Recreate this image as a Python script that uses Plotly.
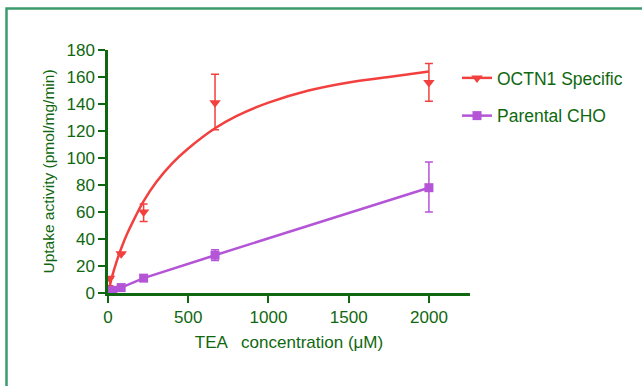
import plotly.graph_objects as go

# OCTN1 Specific data
octn1_x = [0, 10, 82, 222, 667, 2000]
octn1_y = [4, 11, 29, 60, 141, 156]
octn1_err_plus = [0, 0, 0, 6, 21, 14]
octn1_err_minus = [0, 0, 0, 7, 20, 14]

# OCTN1 fitted curve
fit_x = [0, 25, 50, 82, 120, 160, 222, 300, 400, 500, 667, 800, 1000, 1250, 1500, 1750, 2000]
fit_y = [0, 12, 22, 33, 44, 54, 68, 82, 96, 107, 122, 131, 141, 150, 156, 160, 164]

# Parental CHO data
cho_x = [0, 10, 30, 82, 222, 667, 2000]
cho_y = [0, 1, 2, 4, 11, 28, 78]
cho_err_plus = [0, 0, 0, 0, 0, 4, 19]
cho_err_minus = [0, 0, 0, 0, 0, 4, 18]

x_ticks = [0, 500, 1000, 1500, 2000]
y_ticks = [0, 20, 40, 60, 80, 100, 120, 140, 160, 180]

RED = "#f2403f"
PURPLE = "#b454d6"
GREEN = "#0f680f"
FONT = "Liberation Sans, Arial, sans-serif"

fig = go.Figure()

fig.add_trace(go.Scatter(
    x=fit_x, y=fit_y, mode="lines", line=dict(color=RED, width=2.5, shape="spline", smoothing=0.8),
    showlegend=False, hoverinfo="skip"))
fig.add_trace(go.Scatter(
    x=octn1_x, y=octn1_y, mode="markers",
    marker=dict(symbol="triangle-down", size=10, color=RED),
    error_y=dict(type="data", array=octn1_err_plus, arrayminus=octn1_err_minus,
                 color=RED, thickness=1.5, width=4),
    showlegend=False))
fig.add_trace(go.Scatter(
    x=[None], y=[None], mode="lines+markers", name="OCTN1 Specific",
    line=dict(color=RED, width=2.5),
    marker=dict(symbol="triangle-down", size=10, color=RED),
    legendgroup="a"))
fig.add_trace(go.Scatter(
    x=cho_x, y=cho_y, mode="lines+markers", name="Parental CHO",
    line=dict(color=PURPLE, width=2.5),
    marker=dict(symbol="square", size=9, color=PURPLE),
    error_y=dict(type="data", array=cho_err_plus, arrayminus=cho_err_minus,
                 color=PURPLE, thickness=1.5, width=4),
    legendgroup="b"))

# plot area geometry in px for the border
L, R, T, B = 108, 172, 50, 93
W, H = 642 - L - R, 386 - T - B

def px_x(p):
    return (p - L) / W

def px_y(p):
    return (386 - B - p) / H

fig.add_shape(type="rect", xref="paper", yref="paper",
              x0=px_x(6.5), x1=px_x(660), y0=px_y(8.5), y1=px_y(420),
              line=dict(color="#3c9b6c", width=2.5), fillcolor="rgba(0,0,0,0)",
              layer="below")

fig.update_layout(
    width=642, height=386,
    margin=dict(l=L, r=R, t=T, b=B),
    paper_bgcolor="white", plot_bgcolor="white",
    font=dict(family=FONT, size=17, color=GREEN),
    legend=dict(x=px_x(457), y=px_y(60), xanchor="left", yanchor="top",
                font=dict(size=17.5, color=GREEN), tracegroupgap=12,
                bgcolor="rgba(0,0,0,0)"),
    xaxis=dict(range=[0, 2256], tickvals=x_ticks, ticks="outside", ticklen=7,
               tickwidth=2, tickcolor=GREEN, showline=True, linecolor=GREEN,
               linewidth=2.5, showgrid=False, zeroline=False,
               tickfont=dict(size=17),
               title=dict(text="TEA   concentration (μM)", standoff=10,
                          font=dict(size=17, color=GREEN))),
    yaxis=dict(range=[0, 180], tickvals=y_ticks, ticks="outside", ticklen=7,
               tickwidth=2, tickcolor=GREEN, showline=True, linecolor=GREEN,
               linewidth=2.5, showgrid=False, zeroline=False,
               tickfont=dict(size=17),
               title=dict(text="Uptake activity (pmol/mg/min)", standoff=9,
                          font=dict(size=15.5, color=GREEN))),
)

fig.write_html("out.html", config={"displayModeBar": False},
               post_script="document.body.style.margin='0px';")
